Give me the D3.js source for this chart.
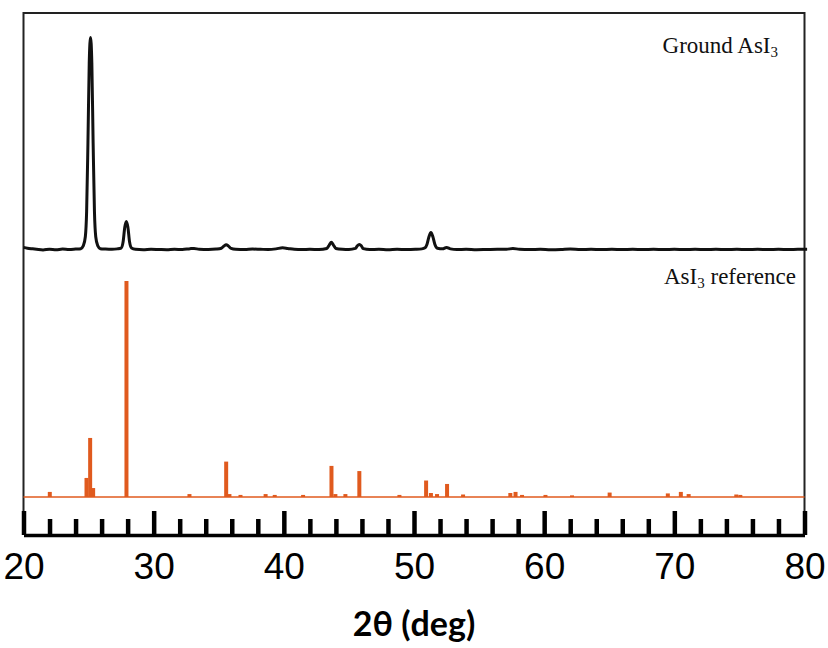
<!DOCTYPE html>
<html>
<head>
<meta charset="utf-8">
<script src="https://cdn.jsdelivr.net/npm/d3@7"></script>
<style>
  body { margin: 0; background: #fff; }
  svg { display: block; }
</style>
</head>
<body>
<div id="chart"></div>
<script>
// Ground AsI3 pattern, [2theta, intensity] (main peak = 100)
const groundAsI3 = [
  [20.0, 1.0], [20.3, 0.6], [20.7, 0.3], [21.0, 0.1], [21.5, -0.2], [22.0, 0.1], [22.5, -0.1],
  [23.0, 0.2], [23.5, 0.0], [24.0, 0.2], [24.4, 0.4],
  [24.6, 1.8], [24.75, 6], [24.85, 18], [24.95, 50], [25.05, 88], [25.15, 100], [25.25, 88],
  [25.35, 50], [25.45, 18], [25.55, 6], [25.7, 1.8], [25.9, 0.4],
  [26.3, 0.2], [26.8, 0.1], [27.2, 0.3], [27.5, 0.7], [27.65, 3.5], [27.78, 10.5], [27.9, 13.2],
  [28.02, 10.5], [28.15, 3.5], [28.3, 0.7], [28.6, 0.1],
  [29.2, -0.1], [29.8, 0.1], [30.4, 0.0], [31.0, -0.1], [31.6, 0.1], [32.2, 0.0], [32.8, 0.4],
  [33.1, 0.5], [33.5, 0.1], [34.2, 0.0], [34.8, 0.2], [35.2, 0.6], [35.4, 1.6], [35.57, 2.2],
  [35.75, 1.6], [35.95, 0.5], [36.3, 0.1], [37.0, 0.0], [37.6, 0.2], [38.2, 0.1], [38.8, 0.0],
  [39.4, 0.3], [39.9, 0.8], [40.3, 0.5], [40.8, 0.1], [41.4, 0.0], [42.0, 0.1], [42.7, 0.0],
  [43.3, 0.5], [43.5, 2.2], [43.65, 3.4], [43.8, 2.2], [44.0, 0.5], [44.5, 0.1], [45.0, 0.0],
  [45.5, 0.5], [45.65, 1.8], [45.8, 2.4], [45.95, 1.8], [46.1, 0.4], [46.6, 0.0], [47.3, 0.1],
  [48.0, -0.1], [48.7, 0.1], [49.4, 0.0], [50.1, 0.1], [50.6, 0.3],
  [50.85, 0.8], [51.0, 2.5], [51.15, 6], [51.3, 8], [51.45, 6], [51.6, 2.5], [51.8, 0.6],
  [52.2, 0.3], [52.5, 1.0], [52.8, 0.3], [53.3, 0.0], [54.0, 0.1], [54.8, -0.1], [55.6, 0.0],
  [56.4, 0.1], [57.1, 0.1], [57.6, 0.5], [58.1, 0.1], [58.9, 0.0], [59.7, 0.1], [60.5, -0.1],
  [61.3, 0.0], [62.0, 0.2], [62.8, 0.0], [63.6, 0.1], [64.4, 0.0], [65.2, 0.1], [66.0, 0.0],
  [66.8, 0.1], [67.6, 0.0], [68.4, 0.1], [69.2, 0.0], [70.0, 0.1], [70.8, 0.0], [71.6, 0.1],
  [72.4, 0.0], [73.2, 0.1], [74.0, 0.0], [74.8, 0.1], [75.6, 0.0], [76.4, 0.1], [77.2, 0.0],
  [78.0, 0.1], [78.8, 0.0], [79.5, 0.1], [80.2, 0.1]
];

// AsI3 reference peaks: 2theta positions and relative intensities (strongest = 100)
const refPositions = [22.02, 24.84, 25.12, 25.35, 27.91, 32.75, 35.57, 35.82, 36.67, 38.6, 39.3,
  41.48, 43.66, 43.96, 44.73, 45.8, 48.88, 50.93, 51.3, 51.77, 52.54, 53.77, 57.4, 57.8, 58.3,
  60.1, 62.14, 65.03, 69.5, 70.5, 71.1, 74.76, 75.07];
const refIntensities = [1.9, 8.4, 27, 3.7, 100, 0.9, 16, 0.9, 0.5, 0.9, 0.5,
  0.5, 14, 0.9, 0.9, 11.6, 0.5, 7.2, 1.4, 0.9, 5.6, 0.7, 1.4, 1.9, 0.5,
  0.5, 0.3, 1.6, 1.2, 1.9, 0.9, 0.7, 0.5];

const xTicks = d3.range(20, 81, 2);
const xLabel = "2θ (deg)";

const W = 828, H = 648;
const frame = { left: 23.5, right: 804.5, top: 13, bottom: 535 };

const svg = d3.select("#chart").append("svg")
  .attr("width", W).attr("height", H);

const x = d3.scaleLinear().domain([20, 80]).range([frame.left, frame.right]);
const yTop = d3.scaleLinear().domain([0, 100]).range([249.5, 37.5]);
const yRef = d3.scaleLinear().domain([0, 100]).range([497, 282]);

// frame (left, top, right)
svg.append("path")
  .attr("d", `M${frame.left},${frame.bottom}V${frame.top}H${frame.right}V${frame.bottom}`)
  .attr("fill", "none")
  .attr("stroke", "#222")
  .attr("stroke-width", 2);

// reference pattern: baseline + sticks
const orange = "#e05a1e";
svg.append("line")
  .attr("x1", x(20)).attr("x2", x(80))
  .attr("y1", yRef(0)).attr("y2", yRef(0))
  .attr("stroke", orange).attr("stroke-width", 1.5);

svg.append("g").selectAll("line")
  .data(refPositions.map((p, i) => [p, refIntensities[i]]))
  .join("line")
  .attr("x1", d => x(d[0])).attr("x2", d => x(d[0]))
  .attr("y1", yRef(0)).attr("y2", d => yRef(d[1]) - 1)
  .attr("stroke", orange)
  .attr("stroke-width", 4);

// ground sample
const line = d3.line()
  .x(d => x(d[0]))
  .y(d => yTop(d[1]))
  .curve(d3.curveMonotoneX);

svg.append("path")
  .datum(groundAsI3)
  .attr("d", line)
  .attr("fill", "none")
  .attr("stroke", "#111")
  .attr("stroke-width", 3)
  .attr("stroke-linejoin", "round");

// bottom axis with ticks pointing up
const xAxis = d3.axisBottom(x)
  .tickValues(xTicks)
  .tickSizeInner(-24)
  .tickSizeOuter(0)
  .tickPadding(18)
  .tickFormat(d => d % 10 === 0 ? d : "");

const axisG = svg.append("g")
  .attr("transform", `translate(0,${frame.bottom})`)
  .call(xAxis);

axisG.select(".domain")
  .attr("stroke", "#000")
  .attr("stroke-width", 3.5);

axisG.selectAll(".tick line")
  .attr("stroke", "#000")
  .attr("stroke-width", 4.5)
  .attr("y2", d => d % 10 === 0 ? -24 : -16);

axisG.selectAll(".tick text")
  .attr("font-family", "Liberation Sans, Arial, sans-serif")
  .attr("font-size", 37)
  .attr("fill", "#000");

svg.append("text")
  .attr("x", 414).attr("y", 636)
  .attr("text-anchor", "middle")
  .attr("font-family", "Lato, sans-serif")
  .attr("font-weight", "bold")
  .attr("font-size", 34)
  .text(xLabel);

// series labels
function label(yPos, xEnd, parts) {
  const t = svg.append("text")
    .attr("x", xEnd).attr("y", yPos)
    .attr("text-anchor", "end")
    .attr("font-family", "Liberation Serif, Times New Roman, serif")
    .attr("font-size", 23)
    .attr("fill", "#111");
  parts.forEach(p => {
    t.append("tspan")
      .attr("font-size", p.sub ? 15 : 23)
      .attr("dy", p.dy || 0)
      .text(p.t);
  });
}

label(53, 778, [{ t: "Ground AsI" }, { t: "3", sub: true, dy: 4 }]);
label(284, 796, [{ t: "AsI" }, { t: "3", sub: true, dy: 4 }, { t: " reference", dy: -4 }]);
</script>
</body>
</html>
